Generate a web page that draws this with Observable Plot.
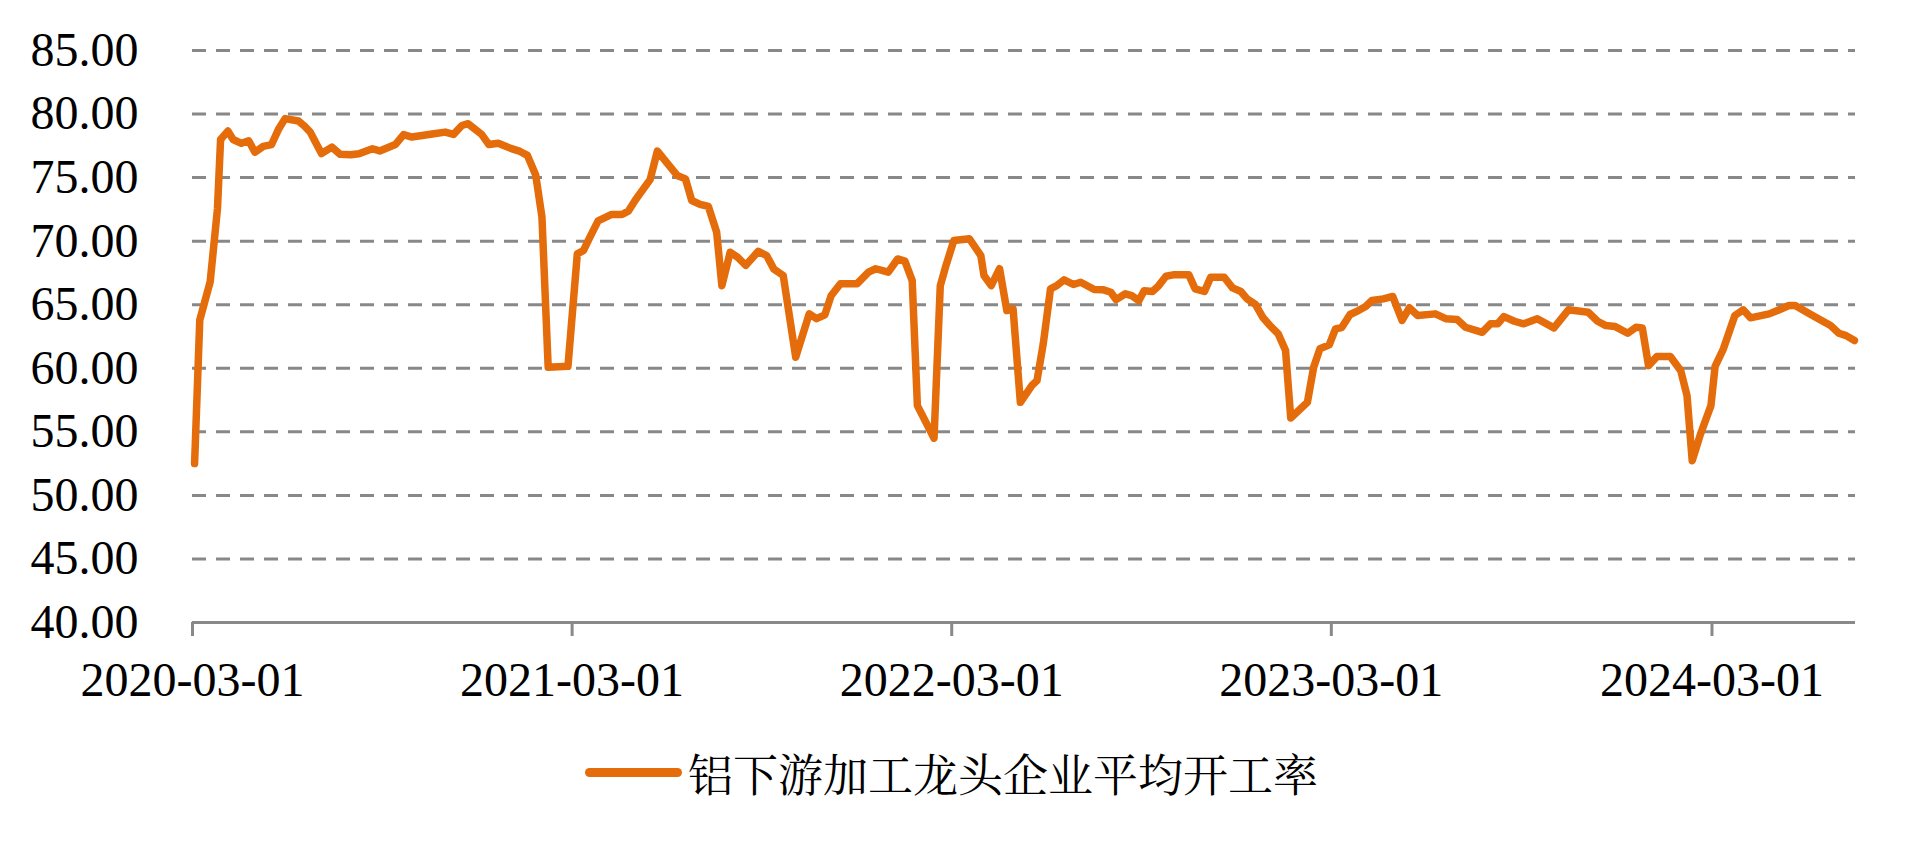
<!DOCTYPE html>
<html><head><meta charset="utf-8">
<script src="https://cdn.jsdelivr.net/npm/d3@7"></script>
<script src="https://cdn.jsdelivr.net/npm/@observablehq/plot@0.6"></script>
<style>
html,body{margin:0;padding:0;background:#fff;width:1911px;height:847px;overflow:hidden}
#chart{position:absolute;left:0;top:0}
#legend{position:absolute;left:585px;top:744px;height:56px;display:flex;align-items:center;font-family:"Noto Serif CJK SC","Noto Sans CJK SC",serif;font-size:45px;color:#000;white-space:nowrap}
#legend .sw{display:inline-block;width:97px;height:9px;border-radius:5px;background:#E46C0A;margin-right:6px}
</style></head><body>
<div id="chart"></div>
<div id="legend"><span class="sw"></span><span id="legendText"></span></div>
<script>
const seriesName = "铝下游加工龙头企业平均开工率";

const dates = [
"2020-03-03","2020-03-08","2020-03-18","2020-03-25","2020-03-28","2020-04-04","2020-04-09","2020-04-17","2020-04-24","2020-04-30",
"2020-05-08","2020-05-16","2020-05-23","2020-05-29","2020-06-11","2020-06-16","2020-06-22","2020-07-03","2020-07-13","2020-07-21",
"2020-07-31","2020-08-08","2020-08-21","2020-08-28","2020-09-12","2020-09-20","2020-09-28","2020-10-19","2020-10-30","2020-11-07",
"2020-11-15","2020-11-21","2020-12-04","2020-12-11","2020-12-20","2021-01-01","2021-01-10","2021-01-17","2021-01-25","2021-01-31",
"2021-02-06","2021-02-25","2021-03-06","2021-03-12","2021-03-18","2021-03-26","2021-04-08","2021-04-18","2021-04-24","2021-05-01",
"2021-05-15","2021-05-22","2021-06-10","2021-06-18","2021-06-24","2021-07-02","2021-07-10","2021-07-18","2021-07-23","2021-07-31",
"2021-08-07","2021-08-15","2021-08-27","2021-09-04","2021-09-11","2021-09-20","2021-10-02","2021-10-15","2021-10-22","2021-10-30",
"2021-11-05","2021-11-14","2021-11-30","2021-12-11","2021-12-18","2021-12-30","2022-01-08","2022-01-15","2022-01-22","2022-01-27",
"2022-02-12","2022-02-18","2022-02-23","2022-03-03","2022-03-18","2022-03-29","2022-04-01","2022-04-08","2022-04-16","2022-04-23",
"2022-04-29","2022-05-06","2022-05-17","2022-05-22","2022-05-28","2022-06-04","2022-06-10","2022-06-17","2022-06-26","2022-07-03",
"2022-07-16","2022-07-25","2022-08-01","2022-08-06","2022-08-15","2022-08-21","2022-08-28","2022-09-02","2022-09-10","2022-09-16",
"2022-09-23","2022-09-30","2022-10-15","2022-10-21","2022-10-30","2022-11-05","2022-11-18","2022-11-26","2022-12-04","2022-12-10",
"2022-12-18","2022-12-25","2023-01-01","2023-01-09","2023-01-16","2023-01-21","2023-02-06","2023-02-12","2023-02-18","2023-02-27",
"2023-03-05","2023-03-11","2023-03-19","2023-03-27","2023-04-03","2023-04-09","2023-04-20","2023-04-29","2023-05-08","2023-05-15",
"2023-05-23","2023-06-09","2023-06-19","2023-06-30","2023-07-08","2023-07-24","2023-08-01","2023-08-08","2023-08-14","2023-08-24",
"2023-09-02","2023-09-15","2023-10-01","2023-10-15","2023-11-03","2023-11-12","2023-11-20","2023-11-29","2023-12-11","2023-12-19",
"2023-12-25","2023-12-31","2024-01-08","2024-01-21","2024-01-31","2024-02-06","2024-02-11","2024-02-19","2024-02-29","2024-03-04",
"2024-03-12","2024-03-23","2024-03-31","2024-04-07","2024-04-25","2024-05-03","2024-05-14","2024-05-20","2024-06-04","2024-06-23",
"2024-07-01","2024-07-08","2024-07-16"
];

const values = [
52.5, 63.8, 66.8, 72.55, 78.0, 78.66, 78.0, 77.7, 77.9, 77.0,
77.46, 77.6, 78.85, 79.64, 79.45, 79.1, 78.6, 76.9, 77.4, 76.83,
76.8, 76.88, 77.27, 77.1, 77.6, 78.38, 78.19, 78.45, 78.58, 78.4,
79.1, 79.24, 78.4, 77.6, 77.7, 77.3, 77.06, 76.75, 75.2, 71.9,
60.08, 60.15, 69.0, 69.27, 70.3, 71.6, 72.1, 72.1, 72.36, 73.26,
74.84, 77.09, 75.17, 74.9, 73.2, 72.9, 72.73, 70.7, 66.5, 69.13,
68.74, 68.1, 69.2, 68.87, 67.8, 67.3, 60.87, 64.28, 63.9, 64.2,
65.7, 66.65, 66.65, 67.56, 67.83, 67.56, 68.6, 68.43, 66.9, 57.06,
54.5, 66.5, 67.95, 70.05, 70.19, 68.87, 67.3, 66.5, 67.83, 64.54,
64.67, 57.32, 58.64, 59.03, 61.92, 66.25, 66.5, 66.96, 66.59, 66.77,
66.2, 66.17, 65.98, 65.4, 65.86, 65.72, 65.33, 66.1, 66.04, 66.5,
67.24, 67.35, 67.35, 66.25, 66.04, 67.16, 67.16, 66.33, 66.04, 65.46,
65.02, 64.02, 63.36, 62.7, 61.39, 56.09, 57.32, 60.08, 61.53, 61.84,
63.1, 63.2, 64.23, 64.54, 64.86, 65.33, 65.46, 65.65, 63.76, 64.76,
64.15, 64.28, 63.9, 63.83, 63.23, 62.83, 63.5, 63.5, 64.07, 63.7,
63.5, 63.9, 63.18, 64.6, 64.41, 63.7, 63.36, 63.28, 62.76, 63.23,
63.18, 60.21, 60.92, 60.92, 59.8, 57.85, 52.73, 54.83, 57.06, 60.15,
61.53, 64.15, 64.6, 63.97, 64.28, 64.54, 64.94, 64.94, 64.23, 63.36,
62.76, 62.57, 62.18
];

const yTicks = [40, 45, 50, 55, 60, 65, 70, 75, 80, 85];
const xTickLabels = ["2020-03-01", "2021-03-01", "2022-03-01", "2023-03-01", "2024-03-01"];
const xDomain = ["2020-03-01", "2024-07-17"];

const parse = d3.utcParse("%Y-%m-%d");
const data = dates.map((d, i) => ({date: parse(d), value: values[i]}));

document.getElementById("legendText").textContent = seriesName;

const chart = Plot.plot({
  width: 1911,
  height: 720,
  marginLeft: 192,
  marginRight: 56,
  marginTop: 50,
  marginBottom: 98,
  style: {fontFamily: '"Liberation Serif", serif', fontSize: "48px", color: "#000", background: "#fff"},
  x: {type: "utc", domain: xDomain.map(parse)},
  y: {domain: [yTicks[0], yTicks[yTicks.length - 1]]},
  marks: [
    Plot.ruleY(yTicks.slice(1), {stroke: "#888888", strokeWidth: 3, strokeDasharray: "14,10"}),
    Plot.ruleY([yTicks[0]], {stroke: "#898989", strokeWidth: 3}),
    Plot.axisY({ticks: yTicks, tickSize: 0, tickPadding: 54, tickFormat: d => d.toFixed(2), fontSize: 48, label: null}),
    Plot.axisX({ticks: xTickLabels.map(parse), tickSize: 14, tickPadding: 25, stroke: "#898989", strokeWidth: 3, fill: "#000", tickFormat: d3.utcFormat("%Y-%m-%d"), fontSize: 48, label: null}),
    Plot.line(data, {x: "date", y: "value", stroke: "#E46C0A", strokeWidth: 7.5, strokeLinejoin: "round"})
  ]
});
document.getElementById("chart").appendChild(chart);
</script>
</body></html>
